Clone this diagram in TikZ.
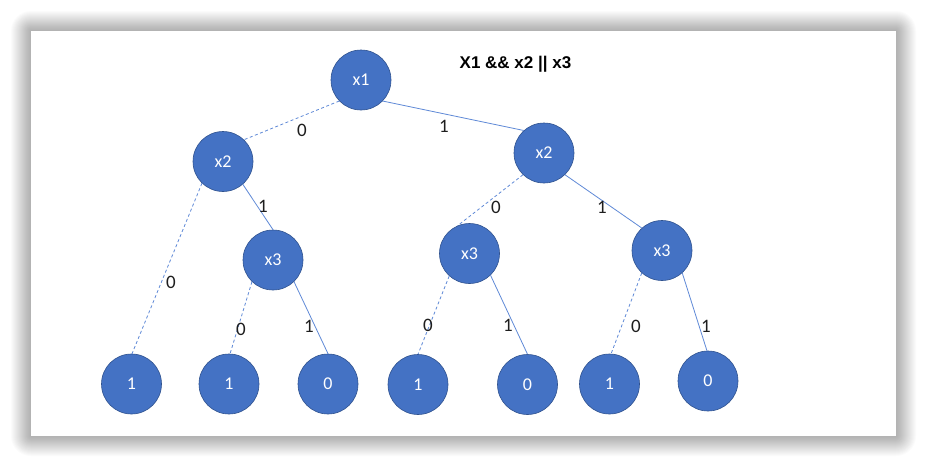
\documentclass[tikz,border=0pt]{standalone}
\usepackage{fontspec}
\setmainfont{Carlito}
\newfontfamily\titlefont{Liberation Sans}
\definecolor{nodefill}{RGB}{68,114,196}
\definecolor{nodeborder}{RGB}{47,82,143}
\definecolor{edgecol}{RGB}{95,137,215}
\definecolor{labcol}{RGB}{30,30,30}
\begin{document}
\begin{tikzpicture}[x=1pt,y=-1pt,
  tnode/.style={circle,fill=nodefill,draw=nodeborder,line width=0.6pt,minimum size=60pt,inner sep=0pt,text=white,font=\fontsize{18}{20}\selectfont},
  onebranch/.style={draw=edgecol,line width=0.8pt},
  zerobranch/.style={draw=edgecol,line width=0.8pt,dash pattern=on 3pt off 2.5pt},
  elabel/.style={text=labcol,font=\fontsize{19}{20}\selectfont,inner sep=0pt},
  titlestyle/.style={text=black,font=\titlefont\bfseries\fontsize{17}{20}\selectfont,inner sep=0pt}]
\useasboundingbox (0,0) rectangle (927,466);
\fill[white] (0,0) rectangle (927,466);
% card shadow
\foreach \i in {1,...,20}{
  \fill[black,opacity=0.016,rounded corners=\i pt] (31-\i,31-\i) rectangle (896+\i,436+\i);
}
\fill[white] (31,31) rectangle (896,436);
% nodes
\node[tnode] (x1) at (361,80) {x1};
\node[tnode] (x2l) at (223,161.5) {x2};
\node[tnode] (x2r) at (544,153) {x2};
\node[tnode] (x3l) at (273,260) {x3};
\node[tnode] (x3m) at (469.5,253.5) {x3};
\node[tnode] (x3r) at (662,250.5) {x3};
\node[tnode] (l1) at (131.5,384) {1};
\node[tnode] (l2) at (229,384) {1};
\node[tnode] (l3) at (328,384) {0};
\node[tnode] (l4) at (418,384.5) {1};
\node[tnode] (l5) at (527.5,384.5) {0};
\node[tnode] (l6) at (609.5,384) {1};
\node[tnode] (l7) at (708,381) {0};
% edges
\draw[zerobranch] (x1.-136) -- (x2l.46);
\draw[onebranch] (x1.-44) -- (x2r.132);
\draw[zerobranch] (x2l.-134) -- (l1.89);
\draw[onebranch] (x2l.-49) -- (x3l.90);
\draw[zerobranch] (x3l.-134) -- (l2.88);
\draw[onebranch] (x3l.-46) -- (l3.90);
\draw[zerobranch] (x2r.-134) -- (x3m.113);
\draw[onebranch] (x2r.-46) -- (x3r.132);
\draw[zerobranch] (x3m.-132) -- (l4.90);
\draw[onebranch] (x3m.-46) -- (l5.90);
\draw[zerobranch] (x3r.-132) -- (l6.87);
\draw[onebranch] (x3r.-48) -- (l7.92);
% edge labels
\node[elabel] (e1) at (302,130) {0};
\node[elabel] (e2) at (444,126) {1};
\node[elabel] (e3) at (263,206) {1};
\node[elabel] (e4) at (171,282) {0};
\node[elabel] (e5) at (241,329) {0};
\node[elabel] (e6) at (309,326) {1};
\node[elabel] (e7) at (496,207) {0};
\node[elabel] (e8) at (602,207) {1};
\node[elabel] (e9) at (428,325) {0};
\node[elabel] (e10) at (508,325) {1};
\node[elabel] (e11) at (636,326) {0};
\node[elabel] (e12) at (706,326) {1};
% title
\node[titlestyle] (title) at (515.5,64) {X1 \&\& x2 || x3};
\end{tikzpicture}
\end{document}
